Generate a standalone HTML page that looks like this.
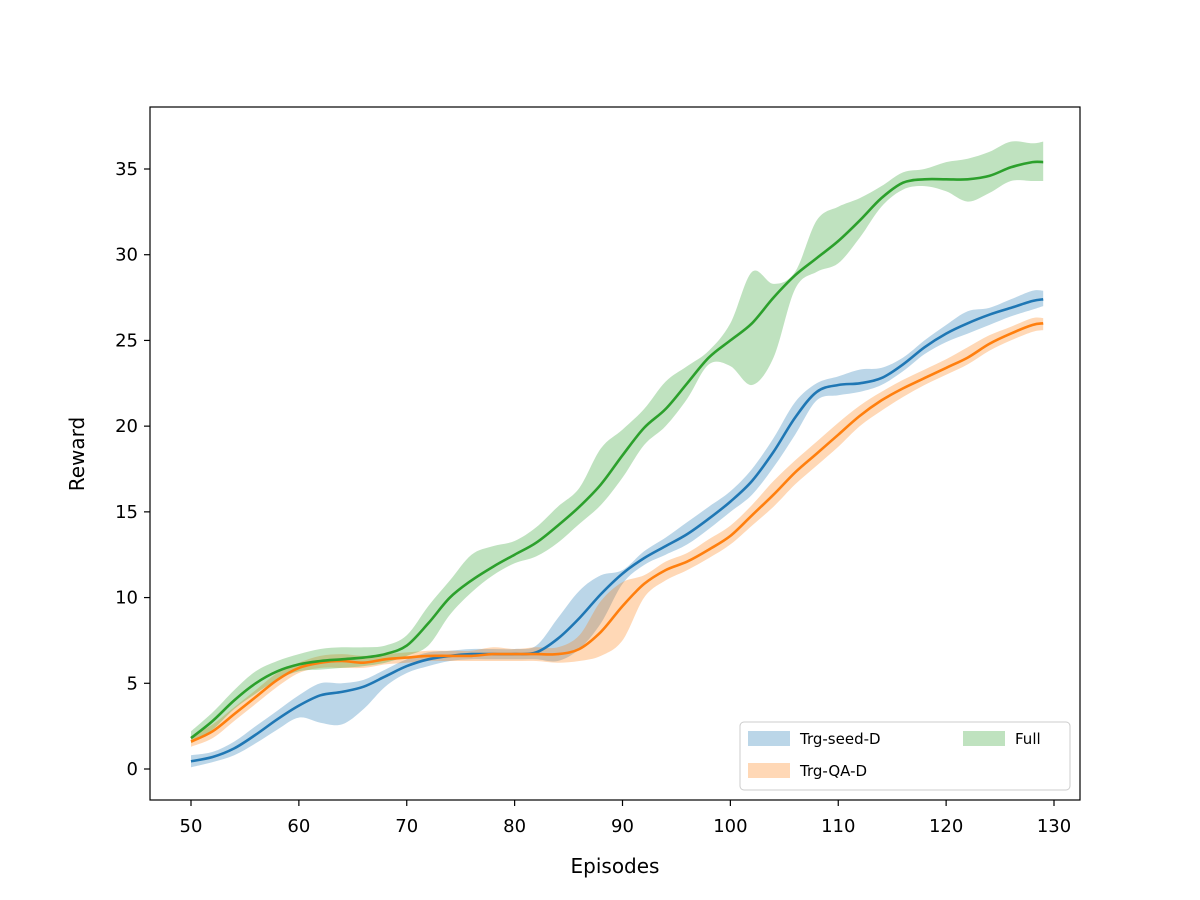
<!DOCTYPE html>
<html><head><meta charset="utf-8"><style>
body{margin:0;background:#fff;}
svg{display:block;font-family:"DejaVu Sans","Liberation Sans",sans-serif;}
</style></head><body>
<svg id="chart" width="1200" height="900">
<rect x="150" y="107" width="930" height="693" fill="#fff" stroke="#000" stroke-width="1.2"/>
<g id="bands"></g><g id="lines"></g><g id="axes"></g>
<text x="615" y="873" font-size="20" text-anchor="middle">Episodes</text>
<text x="84" y="454" font-size="20" text-anchor="middle" transform="rotate(-90 84 454)">Reward</text>
<g>
<rect x="740" y="722" width="330" height="68" rx="4" fill="#fff" fill-opacity="0.8" stroke="#ccc"/>
<rect x="748" y="731" width="42" height="15" fill="#1f77b4" fill-opacity="0.3"/>
<text x="800" y="744" font-size="15">Trg-seed-D</text>
<rect x="748" y="763" width="42" height="15" fill="#ff7f0e" fill-opacity="0.3"/>
<text x="800" y="776" font-size="15">Trg-QA-D</text>
<rect x="963" y="731" width="42" height="15" fill="#2ca02c" fill-opacity="0.3"/>
<text x="1015" y="744" font-size="15">Full</text>
</g>
</svg>
<script>
const episodes=[50,52,54,56,58,60,62,64,66,68,70,72,74,76,78,80,82,84,86,88,90,92,94,96,98,100,102,104,106,108,110,112,114,116,118,120,122,124,126,128,129];
const blueMean=[0.45,0.7,1.2,2.0,2.9,3.7,4.3,4.5,4.8,5.4,6.0,6.4,6.6,6.7,6.7,6.7,6.8,7.6,8.8,10.2,11.4,12.3,13.0,13.7,14.6,15.6,16.8,18.5,20.5,22.0,22.4,22.5,22.8,23.6,24.6,25.4,26.0,26.5,26.9,27.3,27.4];
const blueLo=[0.1,0.4,0.8,1.5,2.3,3.0,2.7,2.6,3.5,4.8,5.6,6.0,6.3,6.4,6.4,6.4,6.4,6.3,7.0,8.5,10.8,11.9,12.5,13.1,14.0,15.0,16.0,17.6,19.5,21.5,21.8,22.0,22.4,23.2,24.2,24.9,25.4,25.9,26.4,26.8,27.0];
const blueHi=[0.8,1.0,1.6,2.5,3.4,4.3,5.0,5.0,5.2,5.8,6.4,6.8,6.9,7.0,7.0,7.0,7.2,8.8,10.4,11.3,11.6,12.7,13.5,14.4,15.3,16.2,17.5,19.3,21.4,22.5,22.9,23.3,23.4,24.0,25.0,25.9,26.7,26.9,27.4,27.9,27.9];
const orangeMean=[1.6,2.2,3.2,4.2,5.2,5.9,6.2,6.3,6.2,6.4,6.5,6.6,6.6,6.6,6.7,6.7,6.7,6.7,7.0,8.0,9.5,10.8,11.6,12.1,12.8,13.6,14.8,16.0,17.3,18.4,19.5,20.6,21.5,22.2,22.8,23.4,24.0,24.8,25.4,25.9,26.0];
const orangeLo=[1.3,1.8,2.8,3.8,4.8,5.6,5.9,5.9,5.9,6.1,6.2,6.3,6.3,6.3,6.3,6.3,6.3,6.2,6.3,6.6,7.5,10.0,11.0,11.6,12.3,13.1,14.2,15.3,16.6,17.7,18.8,20.0,20.9,21.7,22.4,23.0,23.6,24.4,25.0,25.5,25.6];
const orangeHi=[1.9,2.6,3.6,4.6,5.6,6.2,6.6,6.7,6.6,6.7,6.8,6.9,6.9,6.9,7.1,7.0,7.1,7.1,7.8,9.8,10.9,11.3,12.1,12.6,13.4,14.2,15.4,16.8,18.0,19.1,20.2,21.2,22.0,22.7,23.3,23.9,24.6,25.3,25.8,26.3,26.3];
const greenMean=[1.8,2.8,4.0,5.0,5.7,6.1,6.3,6.4,6.5,6.7,7.2,8.5,10.0,11.0,11.8,12.5,13.2,14.2,15.3,16.6,18.3,19.9,21.0,22.5,24.0,25.0,26.0,27.5,28.8,29.8,30.8,32.0,33.3,34.2,34.4,34.4,34.4,34.6,35.1,35.4,35.4];
const greenLo=[1.5,2.3,3.5,4.4,5.2,5.7,5.8,5.9,6.0,6.2,6.6,7.2,9.0,10.3,11.3,12.0,12.4,13.2,14.3,15.4,17.0,18.9,20.0,21.6,23.6,23.5,22.4,24.0,28.0,29.0,29.5,31.0,32.8,33.8,34.0,33.7,33.1,33.6,34.3,34.3,34.3];
const greenHi=[2.2,3.3,4.6,5.7,6.3,6.7,7.0,7.1,7.1,7.2,7.8,9.5,11.0,12.5,13.0,13.3,14.1,15.3,16.4,18.7,19.8,21.0,22.6,23.5,24.4,26.0,29.0,28.3,29.0,32.0,32.8,33.3,34.0,34.8,35.0,35.4,35.6,36.0,36.6,36.5,36.6];
const xTicks=[50,60,70,80,90,100,110,120,130];
const yTicks=[0,5,10,15,20,25,30,35];

const NS="http://www.w3.org/2000/svg";
const xs=v=>191+(v-50)*(1054-191)/80;
const ys=v=>769-v*600/35;
function mk(tag,attrs,parent){const e=document.createElementNS(NS,tag);for(const k in attrs)e.setAttribute(k,attrs[k]);parent.appendChild(e);return e;}
function P(arr){return arr.map((v,i)=>[xs(episodes[i]),ys(v)]);}
function curve(p,move){
  let d=(move?"M":"L")+p[0][0].toFixed(1)+","+p[0][1].toFixed(1);
  for(let i=0;i<p.length-1;i++){
    const p0=p[Math.max(i-1,0)],p1=p[i],p2=p[i+1],p3=p[Math.min(i+2,p.length-1)];
    const c1=[p1[0]+(p2[0]-p0[0])/6,p1[1]+(p2[1]-p0[1])/6];
    const c2=[p2[0]-(p3[0]-p1[0])/6,p2[1]-(p3[1]-p1[1])/6];
    d+="C"+c1[0].toFixed(1)+","+c1[1].toFixed(1)+" "+c2[0].toFixed(1)+","+c2[1].toFixed(1)+" "+p2[0].toFixed(1)+","+p2[1].toFixed(1);
  }
  return d;
}
const bands=document.getElementById('bands'),lines=document.getElementById('lines'),axes=document.getElementById('axes');
const series=[["trg-seed-d","#1f77b4",blueMean,blueLo,blueHi],["trg-qa-d","#ff7f0e",orangeMean,orangeLo,orangeHi],["full","#2ca02c",greenMean,greenLo,greenHi]];
series.forEach(s=>{
  const d=curve(P(s[4]),true)+curve(P(s[3]).reverse(),false)+"Z";
  const b=mk('path',{d:d,fill:s[1],'fill-opacity':0.3},bands);
  
  
});
series.forEach(s=>{
  const l=mk('path',{d:curve(P(s[2]),true),fill:'none',stroke:s[1],'stroke-width':2.6,'stroke-linejoin':'round'},lines);
  
  
});
xTicks.forEach(t=>{
  const x=xs(t);
  const tk=mk('line',{x1:x,x2:x,y1:800,y2:806,stroke:'#000','stroke-width':1.2},axes);
  
  
  const tx=mk('text',{x:x,y:832,'font-size':18,'text-anchor':'middle'},axes);tx.textContent=t;
  
  
});
yTicks.forEach(t=>{
  const y=ys(t);
  const tk=mk('line',{x1:144,x2:150,y1:y,y2:y,stroke:'#000','stroke-width':1.2},axes);
  
  
  const tx=mk('text',{x:138,y:y+6,'font-size':18,'text-anchor':'end'},axes);tx.textContent=t;
  
  
});
</script>
</body></html>
